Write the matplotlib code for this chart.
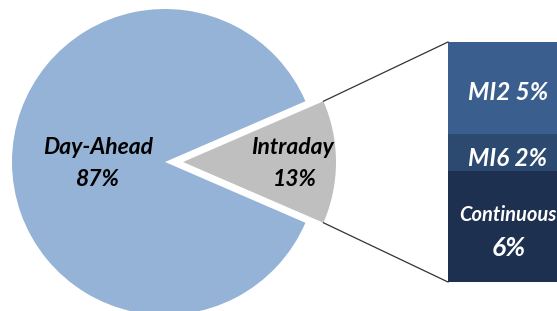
import numpy as np
import matplotlib
matplotlib.use("Agg")
import matplotlib.pyplot as plt

# Data
pie_labels = ["Intraday", "Day-Ahead"]
pie_values = [13, 87]
pie_colors = ["#BFBFBF", "#95B3D7"]

bar_labels = ["Continuous", "MI6", "MI2"]
bar_values = [6, 2, 5]
bar_colors = ["#1D3050", "#2C4A70", "#3A5F8E"]

W, H = 557, 311
fig = plt.figure(figsize=(W / 100, H / 100), dpi=100)
ax = fig.add_axes([0, 0, 1, 1])

cx, cy, R = 165, 149, 153
start = -360 * pie_values[0] / 100 / 2
wedges, _ = ax.pie(pie_values, colors=pie_colors, center=(cx, cy), radius=R,
                   startangle=start, explode=[18, 0],
                   wedgeprops=dict(linewidth=0))

# Stacked bar (in pixel-like data units)
bar_x, bar_w = 509, 122
bar_bottom, bar_top = 29, 269
scale = (bar_top - bar_bottom) / sum(bar_values)
bottom = bar_bottom
for v, c in zip(bar_values, bar_colors):
    ax.bar(bar_x, v * scale, width=bar_w, bottom=bottom, color=c, linewidth=0)
    bottom += v * scale

# connector lines
w0 = wedges[0]
wc = w0.center
t1, t2 = np.deg2rad(w0.theta1), np.deg2rad(w0.theta2)
p_top = (wc[0] + w0.r * np.cos(t2), wc[1] + w0.r * np.sin(t2))
p_bot = (wc[0] + w0.r * np.cos(t1), wc[1] + w0.r * np.sin(t1))
left = bar_x - bar_w / 2
ax.plot([p_top[0], left], [p_top[1], bar_top], color="#333333", lw=0.9)
ax.plot([p_bot[0], left], [p_bot[1], bar_bottom], color="#333333", lw=0.9)

font = dict(family="Lato", weight="bold", style="italic")
ax.text(98, 163, "Day-Ahead", ha="center", va="center", fontsize=16.5, color="black", **font)
ax.text(97, 131, "87%", ha="center", va="center", fontsize=16.5, color="black", **font)
ax.text(293, 163, "Intraday", ha="center", va="center", fontsize=16.5, color="black", **font)
ax.text(295, 131, "13%", ha="center", va="center", fontsize=16.5, color="black", **font)

ax.text(508, 218, "MI2 5%", ha="center", va="center", fontsize=17.5, color="white", **font)
ax.text(508, 152, "MI6 2%", ha="center", va="center", fontsize=17.5, color="white", **font)
ax.text(508, 96, "Continuous", ha="center", va="center", fontsize=14.5, color="white", **font)
ax.text(509, 63, "6%", ha="center", va="center", fontsize=19, color="white", **font)

ax.set_xlim(0, W)
ax.set_ylim(0, H)
ax.set_aspect("auto")
ax.axis("off")
fig.savefig("out.png", dpi=100)
